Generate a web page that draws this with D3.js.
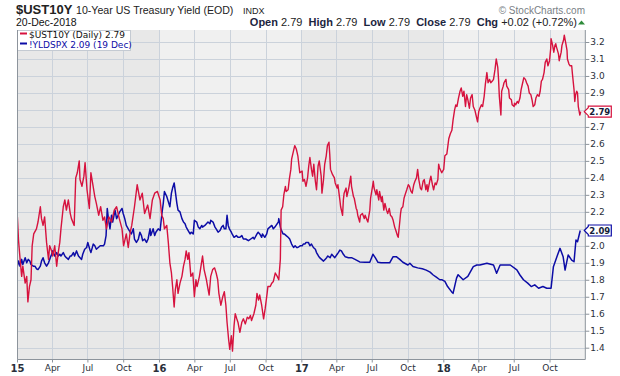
<!doctype html>
<html>
<head>
<script src="https://d3js.org/d3.v7.min.js"></script>
<style>
body { margin: 0; background: #fff; }
svg text { font-family: Arial, "Liberation Sans", sans-serif; }
.ax text { font-family: "DejaVu Sans", Verdana, sans-serif; font-size: 9px; fill: #2a2f3a; }
</style>
</head>
<body>
<svg width="620" height="376"></svg>
<script>
// 10-year yield (roughly every few trading days)
var ustDates = [
 "2015-01-02","2015-01-05","2015-01-09","2015-01-13","2015-01-16","2015-01-22","2015-01-26","2015-01-29",
 "2015-02-02","2015-02-06","2015-02-09","2015-02-13","2015-02-20","2015-02-24",
 "2015-03-02","2015-03-05","2015-03-09","2015-03-13","2015-03-18","2015-03-23","2015-03-26","2015-03-31",
 "2015-04-03","2015-04-08","2015-04-13","2015-04-17","2015-04-21","2015-04-24","2015-04-30",
 "2015-05-04","2015-05-08","2015-05-13","2015-05-18","2015-05-21","2015-05-28",
 "2015-06-01","2015-06-05","2015-06-10","2015-06-12","2015-06-17","2015-06-22","2015-06-25","2015-06-30",
 "2015-07-06","2015-07-10","2015-07-15","2015-07-20","2015-07-24","2015-07-30",
 "2015-08-04","2015-08-10","2015-08-14","2015-08-19","2015-08-25",
 "2015-09-01","2015-09-08","2015-09-14","2015-09-21","2015-09-28",
 "2015-10-02","2015-10-09","2015-10-14","2015-10-19","2015-10-23","2015-10-30",
 "2015-11-06","2015-11-13","2015-11-19","2015-11-25",
 "2015-12-03","2015-12-09","2015-12-15","2015-12-21","2015-12-28",
 "2016-01-04","2016-01-08","2016-01-12","2016-01-15","2016-01-21","2016-01-25","2016-01-29",
 "2016-02-02","2016-02-05","2016-02-09","2016-02-12","2016-02-16","2016-02-19","2016-02-24","2016-02-29",
 "2016-03-04","2016-03-08","2016-03-11","2016-03-15","2016-03-18","2016-03-23","2016-03-28",
 "2016-04-01","2016-04-05","2016-04-08","2016-04-14","2016-04-18","2016-04-22","2016-04-26",
 "2016-05-02","2016-05-05","2016-05-09","2016-05-13","2016-05-18","2016-05-23","2016-05-27","2016-05-31",
 "2016-06-03","2016-06-08","2016-06-13","2016-06-17","2016-06-21","2016-06-24","2016-06-28",
 "2016-07-01","2016-07-05","2016-07-08","2016-07-12","2016-07-15","2016-07-19","2016-07-22","2016-07-27",
 "2016-08-01","2016-08-05","2016-08-10","2016-08-15","2016-08-19","2016-08-23","2016-08-26",
 "2016-09-01","2016-09-06","2016-09-09","2016-09-13","2016-09-16","2016-09-21","2016-09-26","2016-09-30",
 "2016-10-05","2016-10-07","2016-10-13","2016-10-17","2016-10-21","2016-10-26","2016-10-31",
 "2016-11-04","2016-11-08","2016-11-10","2016-11-14","2016-11-17","2016-11-21","2016-11-23","2016-11-28",
 "2016-12-01","2016-12-05","2016-12-07","2016-12-12","2016-12-15","2016-12-19","2016-12-21","2016-12-23","2016-12-28",
 "2017-01-03","2017-01-05","2017-01-09","2017-01-13","2017-01-17","2017-01-20","2017-01-23","2017-01-27","2017-01-30",
 "2017-02-02","2017-02-06","2017-02-09","2017-02-13","2017-02-16","2017-02-21","2017-02-23","2017-02-27",
 "2017-03-02","2017-03-06","2017-03-09","2017-03-13","2017-03-15","2017-03-17","2017-03-22","2017-03-27","2017-03-29",
 "2017-04-03","2017-04-05","2017-04-10","2017-04-12","2017-04-17","2017-04-19","2017-04-21","2017-04-26","2017-04-28",
 "2017-05-03","2017-05-08","2017-05-10","2017-05-15","2017-05-17","2017-05-22","2017-05-24","2017-05-26","2017-05-31",
 "2017-06-02","2017-06-07","2017-06-12","2017-06-14","2017-06-19","2017-06-21","2017-06-26","2017-06-28",
 "2017-07-03","2017-07-05","2017-07-07","2017-07-12","2017-07-14","2017-07-19","2017-07-21","2017-07-26","2017-07-28",
 "2017-08-01","2017-08-04","2017-08-08","2017-08-11","2017-08-15","2017-08-18","2017-08-22","2017-08-25","2017-08-29",
 "2017-09-01","2017-09-05","2017-09-07","2017-09-11","2017-09-13","2017-09-15","2017-09-19","2017-09-22","2017-09-26","2017-09-29",
 "2017-10-03","2017-10-06","2017-10-10","2017-10-13","2017-10-17","2017-10-20","2017-10-24","2017-10-27","2017-10-30",
 "2017-11-03","2017-11-06","2017-11-10","2017-11-13","2017-11-17","2017-11-20","2017-11-22","2017-11-27","2017-11-30",
 "2017-12-04","2017-12-07","2017-12-11","2017-12-14","2017-12-18","2017-12-20","2017-12-22","2017-12-28",
 "2018-01-02","2018-01-05","2018-01-10","2018-01-15","2018-01-19","2018-01-23","2018-01-26","2018-01-30",
 "2018-02-02","2018-02-05","2018-02-09","2018-02-13","2018-02-16","2018-02-20","2018-02-23","2018-02-27",
 "2018-03-02","2018-03-05","2018-03-09","2018-03-12","2018-03-16","2018-03-19","2018-03-23","2018-03-26","2018-03-30",
 "2018-04-02","2018-04-05","2018-04-09","2018-04-12","2018-04-16","2018-04-19","2018-04-23","2018-04-26","2018-04-30",
 "2018-05-03","2018-05-07","2018-05-10","2018-05-14","2018-05-17","2018-05-21","2018-05-23","2018-05-25","2018-05-29","2018-05-31",
 "2018-06-04","2018-06-06","2018-06-11","2018-06-13","2018-06-18","2018-06-20","2018-06-25","2018-06-27",
 "2018-07-02","2018-07-03","2018-07-06","2018-07-10","2018-07-13","2018-07-17","2018-07-20","2018-07-24","2018-07-27","2018-07-31",
 "2018-08-03","2018-08-07","2018-08-10","2018-08-14","2018-08-17","2018-08-20","2018-08-24","2018-08-27","2018-08-31",
 "2018-09-04","2018-09-07","2018-09-10","2018-09-13","2018-09-17","2018-09-20","2018-09-24","2018-09-27",
 "2018-10-01","2018-10-04","2018-10-05","2018-10-09","2018-10-12","2018-10-15","2018-10-17","2018-10-19","2018-10-24","2018-10-26","2018-10-31",
 "2018-11-02","2018-11-06","2018-11-08","2018-11-12","2018-11-15","2018-11-16","2018-11-20","2018-11-23","2018-11-27","2018-11-29",
 "2018-12-03","2018-12-05","2018-12-07","2018-12-10","2018-12-12","2018-12-14","2018-12-18","2018-12-20"
];
var ustValues = [
 2.17,2.03,1.92,1.82,1.88,1.78,1.82,1.67,
 1.76,1.80,2.00,2.07,2.10,2.14,
 2.23,2.16,2.12,2.17,2.02,1.92,2.00,1.97,
 1.94,2.00,1.88,1.96,2.02,2.10,2.23,
 2.27,2.21,2.27,2.19,2.16,2.12,
 2.40,2.43,2.50,2.39,2.35,2.41,2.49,2.33,
 2.22,2.43,2.36,2.29,2.25,2.18,
 2.23,2.15,2.17,2.10,2.17,
 2.14,2.21,2.23,2.16,2.10,
 2.00,2.07,1.99,2.08,2.12,2.23,
 2.36,2.27,2.31,2.19,
 2.24,2.16,2.27,2.31,2.32,
 2.27,2.18,2.16,2.10,2.12,2.02,1.90,
 1.84,1.76,1.64,1.74,1.80,1.72,1.78,1.82,
 1.88,1.92,1.97,1.92,1.96,1.82,1.84,
 1.70,1.80,1.76,1.82,1.88,1.94,1.86,
 1.80,1.76,1.71,1.82,1.86,1.87,1.84,1.80,
 1.72,1.65,1.70,1.73,1.65,1.55,1.45,
 1.39,1.47,1.38,1.53,1.60,1.57,1.55,1.49,
 1.55,1.57,1.54,1.58,1.57,1.59,1.56,
 1.60,1.65,1.72,1.68,1.71,1.65,1.57,1.63,
 1.72,1.76,1.76,1.78,1.79,1.84,1.82,
 1.80,1.92,2.21,2.23,2.30,2.35,2.32,2.33,
 2.39,2.45,2.51,2.56,2.59,2.57,2.55,2.53,2.43,
 2.44,2.38,2.39,2.35,2.40,2.47,2.52,2.45,2.41,
 2.48,2.38,2.33,2.47,2.50,2.41,2.31,2.39,
 2.48,2.53,2.59,2.61,2.54,2.45,2.42,2.40,2.37,
 2.34,2.36,2.27,2.23,2.18,2.27,2.31,2.34,2.29,
 2.34,2.41,2.35,2.29,2.28,2.22,2.21,2.18,2.14,
 2.18,2.19,2.16,2.18,2.15,2.14,2.21,2.28,
 2.35,2.38,2.34,2.30,2.33,2.27,2.32,2.26,2.29,
 2.21,2.25,2.21,2.19,2.22,2.18,2.17,2.15,2.11,
 2.09,2.06,2.05,2.14,2.19,2.22,2.23,2.28,2.31,2.33,
 2.36,2.35,2.32,2.31,2.36,2.38,2.40,2.45,2.39,
 2.34,2.33,2.38,2.39,2.33,2.36,2.32,2.38,2.41,
 2.36,2.33,2.37,2.36,2.39,2.48,2.46,2.43,
 2.45,2.53,2.54,2.63,2.66,2.68,2.74,2.80,
 2.83,2.82,2.87,2.91,2.93,2.88,2.91,2.82,
 2.89,2.86,2.81,2.87,2.89,2.82,2.80,2.77,2.73,
 2.79,2.81,2.83,2.82,2.88,2.95,3.02,2.96,2.98,
 2.96,2.97,2.98,3.04,3.10,3.05,2.98,2.88,2.77,2.91,
 2.94,2.96,2.98,2.94,2.92,2.87,2.86,2.83,
 2.82,2.84,2.83,2.85,2.84,2.87,2.92,2.96,2.99,2.98,
 2.96,2.94,2.90,2.89,2.86,2.82,2.83,2.87,2.89,
 2.88,2.91,2.97,2.98,3.02,3.08,3.10,3.06,
 3.09,3.16,3.22,3.18,3.14,3.18,3.19,3.17,3.13,3.09,3.14,
 3.18,3.21,3.24,3.19,3.15,3.10,3.07,3.06,3.06,3.01,
 2.92,2.85,2.89,2.91,2.90,2.82,2.77,2.79
];

// S&P 500 dividend yield (!YLDSPX)
var yldDates = [
 "2015-01-02","2015-01-05","2015-01-09","2015-01-13","2015-01-16","2015-01-22","2015-01-26","2015-01-30",
 "2015-02-03","2015-02-06","2015-02-12","2015-02-16","2015-02-20","2015-02-24",
 "2015-03-02","2015-03-05","2015-03-09","2015-03-13","2015-03-18","2015-03-23","2015-03-26","2015-03-31",
 "2015-04-03","2015-04-08","2015-04-13","2015-04-17","2015-04-21","2015-04-24","2015-04-30",
 "2015-05-04","2015-05-08","2015-05-13","2015-05-18","2015-05-21","2015-05-26","2015-05-29",
 "2015-06-03","2015-06-08","2015-06-12","2015-06-16","2015-06-19","2015-06-24","2015-06-29",
 "2015-07-02","2015-07-07","2015-07-10","2015-07-16","2015-07-20","2015-07-24","2015-07-29",
 "2015-08-03","2015-08-06","2015-08-11","2015-08-14","2015-08-18","2015-08-21","2015-08-24","2015-08-28",
 "2015-09-01","2015-09-04","2015-09-10","2015-09-14","2015-09-18","2015-09-22","2015-09-28",
 "2015-10-01","2015-10-05","2015-10-09","2015-10-14","2015-10-19","2015-10-22","2015-10-27","2015-10-30",
 "2015-11-04","2015-11-09","2015-11-13","2015-11-17","2015-11-20","2015-11-25","2015-11-30",
 "2015-12-04","2015-12-09","2015-12-11","2015-12-17","2015-12-21","2015-12-24","2015-12-30",
 "2016-01-04","2016-01-08","2016-01-12","2016-01-15","2016-01-21","2016-01-25","2016-01-29",
 "2016-02-02","2016-02-05","2016-02-09","2016-02-12","2016-02-16","2016-02-19","2016-02-24","2016-02-29",
 "2016-03-04","2016-03-08","2016-03-11","2016-03-16","2016-03-21","2016-03-24","2016-03-29",
 "2016-04-01","2016-04-07","2016-04-11","2016-04-15","2016-04-20","2016-04-22","2016-04-28",
 "2016-05-02","2016-05-06","2016-05-11","2016-05-13","2016-05-19","2016-05-24","2016-05-27",
 "2016-06-01","2016-06-06","2016-06-10","2016-06-14","2016-06-17","2016-06-21","2016-06-24","2016-06-27","2016-06-30",
 "2016-07-05","2016-07-07","2016-07-12","2016-07-18","2016-07-22","2016-07-27",
 "2016-08-01","2016-08-05","2016-08-11","2016-08-18","2016-08-24","2016-08-30",
 "2016-09-02","2016-09-09","2016-09-12","2016-09-16","2016-09-21","2016-09-23","2016-09-29",
 "2016-10-04","2016-10-07","2016-10-12","2016-10-17","2016-10-21","2016-10-25","2016-10-28",
 "2016-11-03","2016-11-04","2016-11-09","2016-11-15","2016-11-18","2016-11-23","2016-11-28",
 "2016-12-02","2016-12-07","2016-12-12","2016-12-16","2016-12-20","2016-12-23","2016-12-29",
 "2017-01-03","2017-01-06","2017-01-10","2017-01-13","2017-01-19","2017-01-23","2017-01-27",
 "2017-02-01","2017-02-06","2017-02-09","2017-02-14","2017-02-17","2017-02-22","2017-02-27",
 "2017-03-03","2017-03-07","2017-03-10","2017-03-16","2017-03-20","2017-03-24","2017-03-28",
 "2017-04-03","2017-04-06","2017-04-10","2017-04-14","2017-04-19","2017-04-24",
 "2017-05-02","2017-05-10","2017-05-19","2017-05-31",
 "2017-06-14","2017-06-26",
 "2017-07-04","2017-07-10","2017-07-17","2017-07-25",
 "2017-08-07","2017-08-16","2017-08-25",
 "2017-09-02","2017-09-11","2017-09-19",
 "2017-10-02","2017-10-07","2017-10-15","2017-10-27",
 "2017-11-08","2017-11-18","2017-11-28",
 "2017-12-06","2017-12-14","2017-12-23","2017-12-29",
 "2018-01-05","2018-01-12","2018-01-22","2018-01-26",
 "2018-02-04","2018-02-08","2018-02-21",
 "2018-03-05","2018-03-19","2018-03-28",
 "2018-04-05","2018-04-23",
 "2018-05-10","2018-05-18","2018-05-27",
 "2018-06-22",
 "2018-07-09","2018-07-17","2018-07-26",
 "2018-08-06","2018-08-15","2018-08-24",
 "2018-09-03","2018-09-14","2018-09-24",
 "2018-10-05","2018-10-11","2018-10-20","2018-10-28",
 "2018-11-05","2018-11-10","2018-11-18","2018-11-27",
 "2018-12-03","2018-12-08","2018-12-12","2018-12-19"
];
var yldValues = [
 1.88,1.91,1.88,1.92,1.89,1.93,1.90,1.92,
 1.91,1.89,1.88,1.88,1.865,1.86,
 1.88,1.91,1.93,1.90,1.88,1.90,1.92,1.95,
 1.97,1.94,1.96,1.94,1.95,1.94,1.96,
 1.94,1.93,1.92,1.94,1.94,1.96,1.94,
 1.97,1.94,1.93,1.92,1.95,1.98,1.99,
 2.02,1.98,1.96,2.01,2.00,1.98,1.99,
 2.00,2.00,2.00,2.01,2.06,2.22,2.16,2.10,
 2.18,2.14,2.21,2.16,2.18,2.20,2.22,
 2.19,2.16,2.12,2.10,2.08,2.07,2.10,2.04,
 2.02,2.04,2.08,2.06,2.03,2.04,2.02,
 2.04,2.10,2.06,2.10,2.06,2.08,2.10,
 2.09,2.18,2.25,2.32,2.29,2.26,2.23,
 2.31,2.34,2.37,2.32,2.25,2.21,2.20,2.16,
 2.14,2.13,2.11,2.09,2.07,2.08,2.07,
 2.15,2.14,2.11,2.10,2.12,2.11,2.12,
 2.13,2.14,2.13,2.15,2.14,2.11,2.10,
 2.08,2.09,2.11,2.12,2.10,2.10,2.18,2.12,2.10,
 2.08,2.07,2.05,2.06,2.05,2.05,
 2.06,2.04,2.04,2.03,2.04,2.05,
 2.04,2.07,2.08,2.07,2.05,2.07,2.05,
 2.07,2.10,2.11,2.12,2.10,2.11,2.12,
 2.14,2.16,2.10,2.07,2.07,2.06,2.05,
 2.04,2.01,1.99,2.00,1.99,1.99,2.00,
 2.00,2.01,2.01,2.02,2.02,2.00,2.01,
 1.99,1.98,1.96,1.94,1.93,1.92,1.91,
 1.92,1.93,1.94,1.93,1.95,1.94,1.93,
 1.95,1.96,1.975,1.97,1.95,1.935,
 1.93,1.93,1.92,1.905,
 1.903,1.903,
 1.95,1.93,1.903,1.90,
 1.90,1.90,1.936,
 1.936,1.92,1.903,
 1.887,1.897,1.878,1.87,
 1.865,1.857,1.845,
 1.828,1.815,1.80,1.80,
 1.79,1.76,1.73,1.72,
 1.81,1.83,1.80,
 1.82,1.877,1.887,
 1.887,1.897,
 1.887,1.838,1.887,
 1.887,
 1.858,1.828,1.80,
 1.78,1.76,1.77,
 1.75,1.76,1.75,
 1.75,1.877,1.936,1.985,
 1.936,1.857,1.946,1.916,
 1.906,2.034,2.024,2.09
];

var yTicks = [1.4,1.5,1.6,1.7,1.8,1.9,2.0,2.1,2.2,2.3,2.4,2.5,2.6,2.7,2.8,2.9,3.0,3.1,3.2];
var quarterDates = ["2015-01-01","2015-04-01","2015-07-01","2015-10-01","2016-01-01","2016-04-01","2016-07-01","2016-10-01",
                    "2017-01-01","2017-04-01","2017-07-01","2017-10-01","2018-01-01","2018-04-01","2018-07-01","2018-10-01"];
var quarterLabels = ["15","Apr","Jul","Oct","16","Apr","Jul","Oct","17","Apr","Jul","Oct","18","Apr","Jul","Oct"];
var yearStarts = ["2015-01-01","2016-01-01","2017-01-01","2018-01-01","2019-01-01"];
var lastValues = [{name: "ust", v: 2.79, label: "2.79"}, {name: "yld", v: 2.09, label: "2.09"}];

var svg = d3.select("svg");
var parse = d3.timeParse("%Y-%m-%d");
var L = 17, R = 585.3, T = 30, B = 359.5;
var red = "#d6123e", blue = "#0c0ca6";

var x = d3.scaleTime().domain([parse("2015-01-01"), parse("2019-01-01")]).range([L, R]);
var y = d3.scaleLinear().domain([1.4, 3.2]).range([347.7, 42]);

var ust = ustDates.map((d, i) => ({date: parse(d), v: ustValues[i]}));
var yld = yldDates.map((d, i) => ({date: parse(d), v: yldValues[i]}));

// year bands
var bands = d3.pairs(yearStarts.map(parse));
svg.append("g").selectAll("rect").data(bands).enter().append("rect")
  .attr("x", d => x(d[0])).attr("y", T)
  .attr("width", d => x(d[1]) - x(d[0])).attr("height", B - T)
  .attr("fill", (d, i) => i % 2 ? "#f0f0f0" : "#e8e8e8");

// grid
var grid = svg.append("g").attr("stroke", "#cbd2db").attr("stroke-width", 1);
grid.selectAll(".h").data(yTicks).enter().append("line")
  .attr("x1", L).attr("x2", R)
  .attr("y1", d => Math.round(y(d)) + 0.5).attr("y2", d => Math.round(y(d)) + 0.5);
grid.selectAll(".v").data(quarterDates.map(parse)).enter().append("line")
  .attr("x1", d => Math.round(x(d)) + 0.5).attr("x2", d => Math.round(x(d)) + 0.5)
  .attr("y1", T).attr("y2", B);

// legend box
var lg = svg.append("g");
lg.append("rect").attr("x", L + 0.5).attr("y", T + 0.5).attr("width", 113).attr("height", 20)
  .attr("fill", "#fff").attr("stroke", "#c4cad2");
lg.append("line").attr("x1", 20).attr("x2", 27).attr("y1", 33.5).attr("y2", 33.5).attr("stroke", red).attr("stroke-width", 2);
lg.append("line").attr("x1", 20).attr("x2", 27).attr("y1", 43.5).attr("y2", 43.5).attr("stroke", blue).attr("stroke-width", 2);
lg.append("text").attr("x", 29).attr("y", 37.5).style("font-family", "DejaVu Sans, Verdana, sans-serif")
  .style("font-size", "9px").attr("fill", "#111").text("$UST10Y (Daily) 2.79");
lg.append("text").attr("x", 29).attr("y", 47.5).style("font-family", "DejaVu Sans, Verdana, sans-serif")
  .style("font-size", "9px").attr("fill", blue).text("!YLDSPX 2.09 (19 Dec)");

// lines
svg.append("clipPath").attr("id", "clip").append("rect")
  .attr("x", L).attr("y", T).attr("width", R - L).attr("height", B - T);
var line = d3.line().x(d => x(d.date)).y(d => y(d.v));
var lines = svg.append("g").attr("clip-path", "url(#clip)").attr("fill", "none").attr("stroke-linejoin", "round");
lines.append("path").datum(yld).attr("d", line).attr("stroke", blue).attr("stroke-width", 1.5);
lines.append("path").datum(ust).attr("d", line).attr("stroke", red).attr("stroke-width", 1.4);

// frame
svg.append("path")
  .attr("d", "M" + (L + 0.5) + "," + T + "V" + B + "H" + R + "V" + T)
  .attr("fill", "none").attr("stroke", "#8d949c").attr("stroke-width", 1);

// axes
var yAxis = svg.append("g").attr("class", "ax").attr("transform", "translate(" + R + ",0)")
  .call(d3.axisRight(y).tickValues(yTicks).tickFormat(d3.format(".1f")).tickSize(4).tickPadding(1));
yAxis.select(".domain").remove();
yAxis.selectAll("line").attr("stroke", "#8d949c");
// tick labels hidden behind the last-value badges
yAxis.selectAll("text").filter(d => lastValues.some(b => Math.abs(y(d) - y(b.v)) < 8)).remove();

var xAxis = svg.append("g").attr("class", "ax").attr("transform", "translate(0," + B + ")")
  .call(d3.axisBottom(x).tickValues(quarterDates.map(parse)).tickFormat((d, i) => quarterLabels[i]).tickSize(3).tickPadding(2));
xAxis.select(".domain").remove();
xAxis.selectAll("line").attr("stroke", "#8d949c");
xAxis.selectAll("text").filter((d, i) => i % 4 === 0)
  .style("font-weight", "bold").style("font-size", "10px").attr("fill", "#1c2540");

// last-value badges
var badges = svg.append("g").selectAll("g").data(lastValues).enter().append("g")
  .attr("transform", d => "translate(" + R + "," + y(d.v) + ")");
badges.append("path")
  .attr("d", "M-1,0L3,-4V-5.5H26V5.5H3V4Z")
  .attr("fill", "#fff").attr("stroke", d => d.name === "ust" ? red : blue).attr("stroke-width", 1.2);
badges.append("text").attr("x", 4).attr("y", 3.3)
  .style("font-family", "DejaVu Sans, Verdana, sans-serif").style("font-size", "8.5px").style("font-weight", "bold")
  .attr("fill", "#141c3a").text(d => d.label);

// header
svg.append("text").attr("x", 16).attr("y", 14).style("font-size", "13px").style("font-weight", "bold")
  .attr("fill", "#222").text("$UST10Y");
svg.append("text").attr("x", 76).attr("y", 14).style("font-size", "10.6px").attr("fill", "#222")
  .text("10-Year US Treasury Yield (EOD)");
svg.append("text").attr("x", 243).attr("y", 14).style("font-size", "9px").attr("fill", "#222").text("INDX");
svg.append("text").attr("x", 16).attr("y", 26).style("font-size", "10.5px").attr("fill", "#111").text("20-Dec-2018");
svg.append("text").attr("x", 585).attr("y", 14).attr("text-anchor", "end").style("font-size", "10px")
  .attr("fill", "#7a7f86").text("\u00a9 StockCharts.com");

var quote = [["Open", "2.79"], ["High", "2.79"], ["Low", "2.79"], ["Close", "2.79"], ["Chg", "+0.02 (+0.72%)"]];
var qt = svg.append("text").attr("x", 577).attr("y", 26).attr("text-anchor", "end").style("font-size", "11px")
  .attr("xml:space", "preserve");
quote.forEach(function(q, i) {
  qt.append("tspan").style("font-weight", "bold").attr("fill", "#1c2540").text((i ? "  " : "") + q[0] + " ");
  qt.append("tspan").attr("fill", "#222").text(q[1]);
});
svg.append("path").attr("d", "M578,24.5L585,24.5L581.5,20.5Z").attr("fill", "#2e8b3a");
</script>
</body>
</html>
